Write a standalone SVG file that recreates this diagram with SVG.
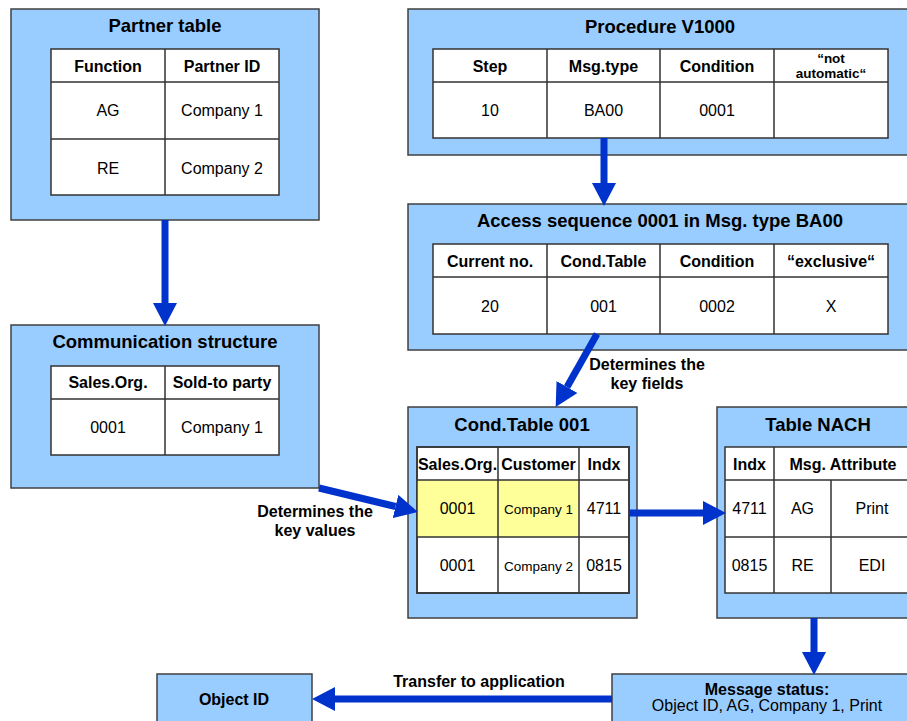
<svg xmlns="http://www.w3.org/2000/svg" width="907" height="721" viewBox="0 0 907 721">
<style>
.box{fill:#99CCFF;stroke:#404040;stroke-width:1.5}
.tbl{fill:#FFFFFF;stroke:#333333;stroke-width:1.5}
.grid{stroke:#333333;stroke-width:1.5;fill:none}
.hl{fill:#FFFF99}
text{font-family:"Liberation Sans",Arial,sans-serif;fill:#000;text-anchor:middle}
.t{font-size:18.5px;font-weight:bold}
.h{font-size:16px;font-weight:bold}
.hs{font-size:13.5px;font-weight:bold}
.c{font-size:16px}
.cs{font-size:13.5px}
.lb{font-size:16px;font-weight:bold}
.conn{stroke:#0033CC;stroke-width:7;fill:none;marker-end:url(#ah)}
</style>
<defs>
<marker id="ah" markerUnits="userSpaceOnUse" markerWidth="23" markerHeight="24" refX="0" refY="12" orient="auto" viewBox="0 0 23 24">
<path d="M0,0 L23,12 L0,24 z" fill="#0033CC"/>
</marker>
</defs>

<g id="partner-table">
<rect class="box" x="11" y="9" width="308" height="211"/>
<text class="t" x="165" y="32">Partner table</text>
<rect class="tbl" x="51" y="49" width="228" height="146"/>
<path class="grid" d="M51,82H279M51,139H279M165,49V195"/>
<text class="h" x="108" y="72">Function</text>
<text class="h" x="222" y="72">Partner ID</text>
<text class="c" x="108" y="116">AG</text>
<text class="c" x="222" y="116">Company 1</text>
<text class="c" x="108" y="174">RE</text>
<text class="c" x="222" y="174">Company 2</text>
</g>

<g id="communication-structure">
<rect class="box" x="11" y="325" width="308" height="163"/>
<text class="t" x="165" y="348">Communication structure</text>
<rect class="tbl" x="51" y="366" width="228" height="89"/>
<path class="grid" d="M51,399H279M165,366V455"/>
<text class="h" x="108" y="388">Sales.Org.</text>
<text class="h" x="222" y="388">Sold-to party</text>
<text class="c" x="108" y="433">0001</text>
<text class="c" x="222" y="433">Company 1</text>
</g>

<g id="procedure-v1000">
<rect class="box" x="408" y="9" width="505" height="146"/>
<text class="t" x="660" y="33">Procedure V1000</text>
<rect class="tbl" x="433" y="49" width="455" height="89"/>
<path class="grid" d="M433,82H888M547,49V138M660,49V138M774,49V138"/>
<text class="h" x="490" y="72">Step</text>
<text class="h" x="603.5" y="72">Msg.type</text>
<text class="h" x="717" y="72">Condition</text>
<text class="hs" x="831" y="63">“not</text>
<text class="hs" x="831" y="78">automatic“</text>
<text class="c" x="490" y="116">10</text>
<text class="c" x="603.5" y="116">BA00</text>
<text class="c" x="717" y="116">0001</text>
</g>

<g id="access-sequence">
<rect class="box" x="408" y="204" width="505" height="146"/>
<text class="t" x="660" y="227">Access sequence 0001 in Msg. type BA00</text>
<rect class="tbl" x="433" y="244" width="455" height="90"/>
<path class="grid" d="M433,277H888M547,244V334M660,244V334M774,244V334"/>
<text class="h" x="490" y="267">Current no.</text>
<text class="h" x="603.5" y="267">Cond.Table</text>
<text class="h" x="717" y="267">Condition</text>
<text class="h" x="831" y="267">“exclusive“</text>
<text class="c" x="490" y="312">20</text>
<text class="c" x="603.5" y="312">001</text>
<text class="c" x="717" y="312">0002</text>
<text class="c" x="831" y="312">X</text>
</g>

<g id="cond-table-001">
<rect class="box" x="408" y="407" width="229" height="211"/>
<text class="t" x="522" y="431">Cond.Table 001</text>
<rect class="tbl" x="417" y="447" width="212" height="146"/>
<rect class="hl" x="417" y="480" width="162" height="57"/>
<path class="grid" d="M417,480H629M417,537H629M498,447V593M579,447V593"/>
<rect x="417" y="447" width="212" height="146" fill="none" stroke="#333333" stroke-width="1.5"/>
<text class="h" x="457.5" y="470">Sales.Org.</text>
<text class="h" x="538.5" y="470">Customer</text>
<text class="h" x="604" y="470">Indx</text>
<text class="c" x="457.5" y="514">0001</text>
<text class="cs" x="538.5" y="514">Company 1</text>
<text class="c" x="604" y="514">4711</text>
<text class="c" x="457.5" y="571">0001</text>
<text class="cs" x="538.5" y="571">Company 2</text>
<text class="c" x="604" y="571">0815</text>
</g>

<g id="table-nach">
<rect class="box" x="717" y="407" width="205" height="211"/>
<text class="t" x="818" y="431">Table NACH</text>
<rect class="tbl" x="725" y="447" width="188" height="146"/>
<path class="grid" d="M725,480H913M725,537H913M774,447V593M831,480V593"/>
<text class="h" x="749.5" y="470">Indx</text>
<text class="h" x="843" y="470">Msg. Attribute</text>
<text class="c" x="749.5" y="514">4711</text>
<text class="c" x="802.5" y="514">AG</text>
<text class="c" x="872" y="514">Print</text>
<text class="c" x="749.5" y="571">0815</text>
<text class="c" x="802.5" y="571">RE</text>
<text class="c" x="872" y="571">EDI</text>
</g>

<g id="object-id">
<rect class="box" x="157" y="674" width="155" height="60"/>
<text class="lb" x="234" y="705">Object ID</text>
</g>

<g id="message-status">
<rect class="box" x="612" y="674" width="310" height="60"/>
<text class="lb" x="767" y="695">Message status:</text>
<text class="c" x="767" y="711">Object ID, AG, Company 1, Print</text>
</g>

<g id="connectors">
<path class="conn" d="M165,220V303"/>
<path class="conn" d="M604,138V183"/>
<path class="conn" d="M597,334L567,387"/>
<path class="conn" d="M319,488L395.5,506.5"/>
<path class="conn" d="M629,513H703"/>
<path class="conn" d="M814,618V652"/>
<path class="conn" d="M612,699H335"/>
<text class="lb" x="647" y="370">Determines the</text>
<text class="lb" x="647" y="389">key fields</text>
<text class="lb" x="315" y="517">Determines the</text>
<text class="lb" x="315" y="536">key values</text>
<text class="lb" x="479" y="687">Transfer to application</text>
</g>
</svg>
